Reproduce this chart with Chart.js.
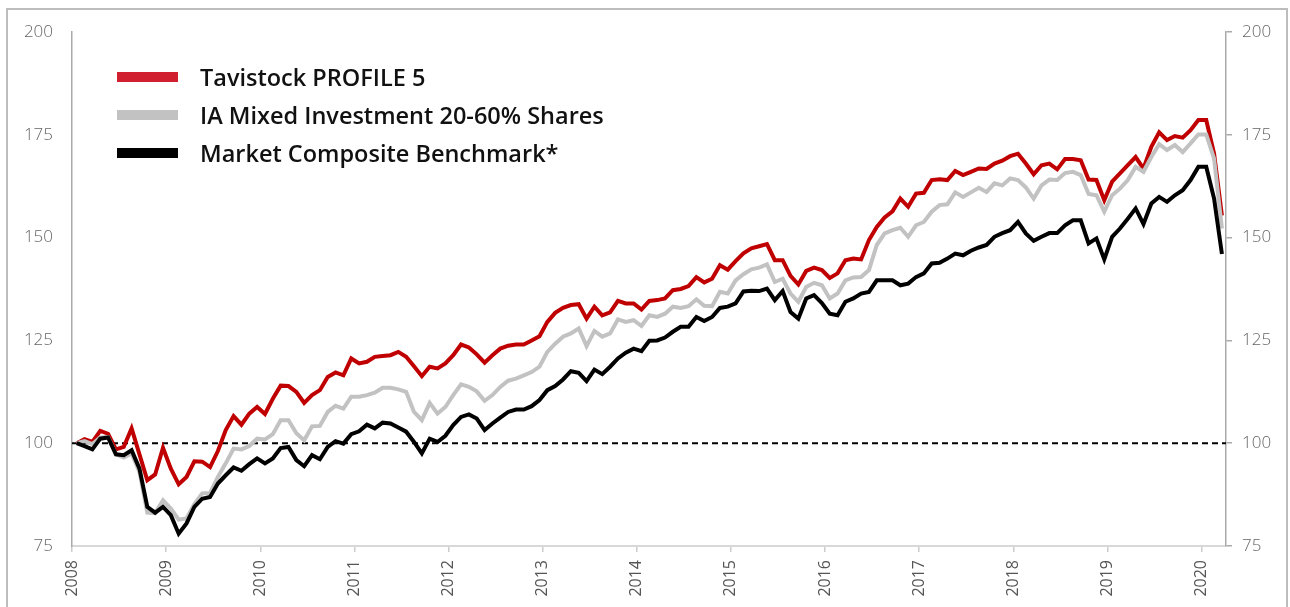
<!DOCTYPE html>
<html>
<head>
<meta charset="utf-8">
<script src="https://cdn.jsdelivr.net/npm/chart.js@4.4.1/dist/chart.umd.min.js"></script>
<style>
  html, body { margin: 0; padding: 0; background: #fff; overflow: hidden; }
  #wrap { position: relative; width: 1290px; height: 607px; }
  #frame { position: absolute; left: 6px; top: 8px; width: 1282px; height: 660px; border: 2px solid #bdbdbd; box-sizing: border-box; pointer-events: none; z-index: 2; }
  #legenda { position: absolute; left: 117px; top: 58px; font-family: 'Open Sans', sans-serif; font-weight: 600; font-size: 23.5px; color: #111; z-index: 3; }
  .item { display: flex; align-items: center; height: 38px; white-space: nowrap; }
  .swatch { width: 61px; height: 10px; margin-right: 22px; }
</style>
</head>
<body>
<div id="wrap">
  <canvas id="grafico"></canvas>
  <div id="frame"></div>
  <div id="legenda"></div>
</div>
<script>
// valores, um ponto por mes (jan/2008 ate mar/2020)
const startYear = 2008;
const monthOffset = 0.6;
const xMax = 2020.26;
const yearTicks = [2008, 2009, 2010, 2011, 2012, 2013, 2014, 2015, 2016, 2017, 2018, 2019, 2020];
const valueTicks = [75, 100, 125, 150, 175, 200];
const baseline = 100;

const seriesNames = ['Tavistock PROFILE 5', 'IA Mixed Investment 20-60% Shares', 'Market Composite Benchmark*'];
const lineColors = ['#c00000', '#c2c2c2', '#000000'];
const legendColors = ['#d01f2f', '#c2c2c2', '#000000'];

const tavistock = [
  100.0, 101.0, 100.3, 103.0, 102.3, 98.5, 99.1, 103.6, 97.3, 91.0, 92.4, 98.9,
  93.8, 90.0, 91.8, 95.6, 95.5, 94.2, 98.1, 103.2, 106.6, 104.5, 107.2, 108.8,
  107.1, 110.8, 114.0, 113.9, 112.5, 109.8, 111.7, 112.9, 116.1, 117.2, 116.5, 120.6,
  119.4, 119.8, 121.0, 121.2, 121.4, 122.2, 121.0, 118.7, 116.3, 118.6, 118.2, 119.4,
  121.4, 124.0, 123.3, 121.6, 119.6, 121.4, 123.0, 123.7, 124.0, 124.0, 125.0, 126.0,
  129.5, 131.7, 132.9, 133.6, 133.8, 130.3, 133.2, 131.1, 131.8, 134.6, 134.0, 134.0,
  132.5, 134.6, 134.8, 135.2, 137.2, 137.5, 138.2, 140.4, 139.1, 140.0, 143.3, 142.2,
  144.3, 146.2, 147.4, 147.9, 148.4, 144.5, 144.5, 140.7, 138.6, 141.9, 142.7, 142.1,
  140.2, 141.3, 144.5, 144.9, 144.7, 149.4, 152.6, 154.9, 156.4, 159.5, 157.5, 160.7,
  160.9, 164.0, 164.2, 164.0, 166.2, 165.2, 166.0, 166.8, 166.7, 168.0, 168.7, 169.8,
  170.4, 168.0, 165.4, 167.6, 168.0, 166.6, 169.1, 169.1, 168.8, 164.1, 164.0, 159.1,
  163.6, 165.6, 167.6, 169.6, 166.8, 172.1, 175.6, 173.7, 174.7, 174.3, 176.1, 178.6,
  178.6, 170.4, 155.4
];

const iaMixed = [
  100.0, 100.5, 99.8, 101.4, 101.5, 97.3, 96.5, 97.5, 93.0, 83.1, 83.0, 86.1,
  84.1, 81.4, 81.7, 85.2, 87.8, 87.9, 91.8, 95.1, 98.7, 98.5, 99.3, 101.1,
  100.9, 102.2, 105.6, 105.6, 102.4, 100.7, 104.1, 104.2, 107.6, 109.1, 108.4, 111.3,
  111.3, 111.7, 112.3, 113.5, 113.5, 113.1, 112.5, 107.6, 105.6, 109.8, 107.2, 108.8,
  111.7, 114.3, 113.7, 112.6, 110.3, 111.7, 113.7, 115.2, 115.7, 116.5, 117.3, 118.6,
  122.2, 124.2, 125.9, 126.7, 127.9, 123.6, 127.3, 125.9, 126.7, 130.1, 129.5, 129.9,
  128.5, 131.1, 130.7, 131.5, 133.2, 132.9, 133.3, 135.0, 133.4, 133.3, 136.8, 136.4,
  139.6, 141.1, 142.3, 142.7, 143.5, 139.2, 140.0, 136.4, 134.4, 138.0, 139.0, 138.4,
  135.2, 136.4, 139.6, 140.3, 140.4, 142.1, 148.2, 151.0, 151.8, 152.4, 150.2, 153.0,
  153.8, 156.3, 157.9, 158.1, 161.0, 159.9, 161.0, 162.1, 161.1, 163.2, 162.7, 164.4,
  164.0, 162.2, 159.5, 162.7, 164.1, 164.0, 165.7, 166.0, 165.2, 160.6, 160.3, 156.3,
  160.3, 161.9, 164.0, 167.2, 166.0, 169.6, 172.7, 171.3, 172.5, 170.8, 172.9, 175.1,
  175.1, 169.2, 152.2
];

const benchmark = [
  100.0, 99.3, 98.5, 101.1, 101.4, 97.3, 97.1, 98.3, 93.8, 84.5, 83.1, 84.5,
  82.5, 78.0, 80.5, 84.5, 86.5, 86.9, 90.2, 92.2, 94.1, 93.3, 94.9, 96.3,
  95.1, 96.3, 98.8, 99.1, 95.9, 94.4, 97.1, 96.1, 99.1, 100.5, 99.9, 102.2,
  102.9, 104.5, 103.6, 105.0, 104.8, 103.8, 102.8, 100.3, 97.5, 101.1, 100.3, 101.8,
  104.4, 106.4, 107.0, 106.0, 103.2, 104.8, 106.2, 107.6, 108.2, 108.2, 109.0, 110.5,
  112.9, 113.9, 115.5, 117.5, 117.1, 115.1, 117.9, 116.8, 118.6, 120.6, 122.0, 123.0,
  122.4, 124.9, 125.0, 125.7, 127.1, 128.3, 128.3, 130.7, 129.7, 130.7, 132.9, 133.2,
  134.0, 136.9, 137.1, 137.0, 137.6, 134.8, 137.0, 131.9, 130.3, 135.2, 136.0, 134.1,
  131.5, 131.1, 134.4, 135.2, 136.4, 136.8, 139.6, 139.6, 139.6, 138.4, 138.8, 140.4,
  141.3, 143.7, 143.9, 144.9, 146.1, 145.7, 146.8, 147.6, 148.2, 150.2, 151.1, 151.8,
  153.8, 151.0, 149.2, 150.2, 151.1, 151.1, 153.0, 154.2, 154.2, 148.6, 149.8, 144.7,
  150.2, 152.2, 154.6, 157.1, 153.3, 158.3, 159.9, 158.7, 160.3, 161.5, 164.0, 167.2,
  167.2, 159.5, 146.0
];

// mes i -> ano decimal
function toPoints(values) {
  return values.map((v, i) => ({ x: startYear + (i + monthOffset) / 12, y: v }));
}

const tickFont = { family: "'Open Sans', sans-serif", size: 17, weight: 300 };
const tickColor = '#666666';

function lineDataset(i, values) {
  return {
    label: seriesNames[i],
    data: toPoints(values),
    borderColor: lineColors[i],
    borderWidth: 4,
    pointRadius: 0,
    tension: 0,
    fill: false,
    order: 3 - i
  };
}

// legenda em html
const legenda = document.getElementById('legenda');
seriesNames.forEach((nome, i) => {
  const item = document.createElement('div');
  item.className = 'item';
  const sw = document.createElement('span');
  sw.className = 'swatch';
  sw.style.background = legendColors[i];
  const txt = document.createElement('span');
  txt.textContent = nome;
  item.appendChild(sw);
  item.appendChild(txt);
  legenda.appendChild(item);
});

const ctx = document.getElementById('grafico').getContext('2d');
new Chart(ctx, {
  type: 'line',
  data: {
    datasets: [
      lineDataset(0, tavistock),
      lineDataset(1, iaMixed),
      lineDataset(2, benchmark),
      {
        label: 'base',
        data: [{ x: startYear, y: baseline }, { x: xMax, y: baseline }],
        borderColor: '#000',
        borderWidth: 2,
        borderDash: [6, 4],
        pointRadius: 0,
        order: 4
      }
    ]
  },
  options: {
    responsive: true,
    maintainAspectRatio: false,
    animation: false,
    layout: { padding: { top: 32, left: 0, right: 0, bottom: 0 } },
    plugins: {
      legend: { display: false },
      tooltip: { enabled: false }
    },
    scales: {
      x: {
        type: 'linear',
        min: startYear,
        max: xMax,
        afterFit: s => { s.height = 61; },
        afterBuildTicks: s => { s.ticks = yearTicks.map(v => ({ value: v })); },
        grid: { drawOnChartArea: false, drawTicks: true, tickLength: 6, color: '#cccccc', lineWidth: 1.5 },
        border: { color: '#d8d8d8', width: 2 },
        ticks: {
          autoSkip: false,
          minRotation: 90,
          maxRotation: 90,
          padding: 8,
          color: '#555555',
          font: { family: "'Open Sans', sans-serif", size: 16, weight: 400 },
          callback: v => String(v)
        }
      },
      y: {
        position: 'left',
        min: 75,
        max: 200,
        afterFit: s => { s.width = 72; },
        afterBuildTicks: s => { s.ticks = valueTicks.map(v => ({ value: v })); },
        grid: { drawOnChartArea: false, drawTicks: false },
        border: { color: '#aaaaaa', width: 1.5, dash: [9, 6] },
        ticks: { padding: 19, color: tickColor, font: tickFont }
      },
      y2: {
        position: 'right',
        min: 75,
        max: 200,
        afterFit: s => { s.width = 64; },
        afterBuildTicks: s => { s.ticks = valueTicks.map(v => ({ value: v })); },
        grid: { drawOnChartArea: false, drawTicks: true, tickLength: 6, color: '#aaaaaa', lineWidth: 1.5 },
        border: { color: '#aaaaaa', width: 1.5, dash: [9, 6] },
        ticks: { padding: 10, color: tickColor, font: tickFont }
      }
    }
  }
});
</script>
</body>
</html>
